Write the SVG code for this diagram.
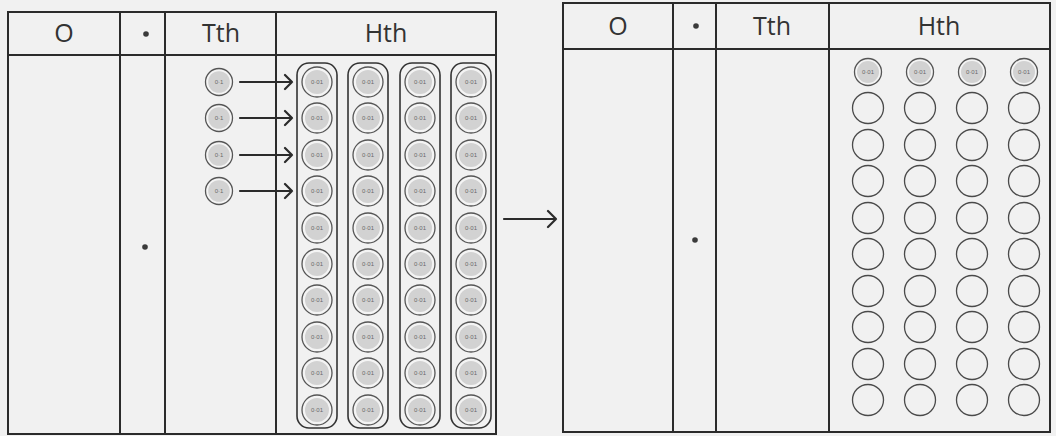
<svg xmlns="http://www.w3.org/2000/svg" xmlns:xlink="http://www.w3.org/1999/xlink" width="1056" height="436" viewBox="0 0 1056 436">
<style>
.bg{fill:#f1f1f1}
.tbl{fill:none;stroke:#2b2b2b;stroke-width:2}
.hdr{font-family:"Open Sans","DejaVu Sans",sans-serif;font-size:25px;fill:#333;text-anchor:middle}
.dot{fill:#3a3a3a}
.ring{fill:#f4f4f4;stroke:#555;stroke-width:1.3}
.disc{fill:#d2d2d2}
.lbl{font-family:"Liberation Sans",Arial,sans-serif;font-size:6px;fill:#6a6a6a;text-anchor:middle;dominant-baseline:central}
.cap{fill:none;stroke:#333;stroke-width:1.6}
.empty{fill:none;stroke:#4a4a4a;stroke-width:1.3}
.conn{fill:none;stroke:#2b2b2b;stroke-width:2.2;stroke-linecap:round;stroke-linejoin:round}
</style>
<defs>
<g id="d01"><circle class="ring" r="15"/><circle class="disc" r="12"/></g>
<g id="d1"><circle class="ring" r="13.5"/><circle class="disc" r="10.8"/></g>
<g id="dr"><circle class="ring" r="13.5"/><circle class="disc" r="11"/></g>
<g id="e"><circle class="empty" r="15.5"/></g>
</defs>
<rect class="bg" x="0" y="0" width="1056" height="436"/>

<g id="table-left">
<rect class="tbl" x="8" y="12" width="488" height="422"/>
<line class="tbl" x1="8" y1="55" x2="496" y2="55"/>
<line class="tbl" x1="120" y1="12" x2="120" y2="434"/>
<line class="tbl" x1="165" y1="12" x2="165" y2="434"/>
<line class="tbl" x1="276" y1="12" x2="276" y2="434"/>
<text class="hdr" x="64" y="42">O</text>
<circle class="dot" cx="146" cy="34" r="2.8"/>
<text class="hdr" x="221" y="42">Tth</text>
<text class="hdr" x="386" y="42">Hth</text>
<circle class="dot" cx="145" cy="247" r="2.8"/>
</g>

<g id="tth-left">
<g id="t1"><use xlink:href="#d1" x="219" y="82"/><text class="lbl" x="219" y="82">0·1</text></g>
<g id="t2"><use xlink:href="#d1" x="219" y="118"/><text class="lbl" x="219" y="118">0·1</text></g>
<g id="t3"><use xlink:href="#d1" x="219" y="155"/><text class="lbl" x="219" y="155">0·1</text></g>
<g id="t4"><use xlink:href="#d1" x="219" y="191"/><text class="lbl" x="219" y="191">0·1</text></g>
</g>

<g id="connectors">
<path class="conn" d="M240 82H292M285 75L292 82L285 89"/>
<path class="conn" d="M240 118H292M285 111L292 118L285 125"/>
<path class="conn" d="M240 155H292M285 148L292 155L285 162"/>
<path class="conn" d="M240 191H292M285 184L292 191L285 198"/>
<path class="conn" d="M504 219H556M548 211L556 219L548 227"/>
</g>

<g id="hth-col1">
<rect class="cap" x="297" y="63" width="40" height="365" rx="12"/>
<use xlink:href="#d01" x="317" y="82"/><text class="lbl" x="317" y="82">0·01</text>
<use xlink:href="#d01" x="317" y="118"/><text class="lbl" x="317" y="118">0·01</text>
<use xlink:href="#d01" x="317" y="155"/><text class="lbl" x="317" y="155">0·01</text>
<use xlink:href="#d01" x="317" y="191"/><text class="lbl" x="317" y="191">0·01</text>
<use xlink:href="#d01" x="317" y="228"/><text class="lbl" x="317" y="228">0·01</text>
<use xlink:href="#d01" x="317" y="264"/><text class="lbl" x="317" y="264">0·01</text>
<use xlink:href="#d01" x="317" y="300"/><text class="lbl" x="317" y="300">0·01</text>
<use xlink:href="#d01" x="317" y="337"/><text class="lbl" x="317" y="337">0·01</text>
<use xlink:href="#d01" x="317" y="373"/><text class="lbl" x="317" y="373">0·01</text>
<use xlink:href="#d01" x="317" y="410"/><text class="lbl" x="317" y="410">0·01</text>
</g>
<g id="hth-col2">
<rect class="cap" x="348" y="63" width="40" height="365" rx="12"/>
<use xlink:href="#d01" x="368" y="82"/><text class="lbl" x="368" y="82">0·01</text>
<use xlink:href="#d01" x="368" y="118"/><text class="lbl" x="368" y="118">0·01</text>
<use xlink:href="#d01" x="368" y="155"/><text class="lbl" x="368" y="155">0·01</text>
<use xlink:href="#d01" x="368" y="191"/><text class="lbl" x="368" y="191">0·01</text>
<use xlink:href="#d01" x="368" y="228"/><text class="lbl" x="368" y="228">0·01</text>
<use xlink:href="#d01" x="368" y="264"/><text class="lbl" x="368" y="264">0·01</text>
<use xlink:href="#d01" x="368" y="300"/><text class="lbl" x="368" y="300">0·01</text>
<use xlink:href="#d01" x="368" y="337"/><text class="lbl" x="368" y="337">0·01</text>
<use xlink:href="#d01" x="368" y="373"/><text class="lbl" x="368" y="373">0·01</text>
<use xlink:href="#d01" x="368" y="410"/><text class="lbl" x="368" y="410">0·01</text>
</g>
<g id="hth-col3">
<rect class="cap" x="400" y="63" width="40" height="365" rx="12"/>
<use xlink:href="#d01" x="420" y="82"/><text class="lbl" x="420" y="82">0·01</text>
<use xlink:href="#d01" x="420" y="118"/><text class="lbl" x="420" y="118">0·01</text>
<use xlink:href="#d01" x="420" y="155"/><text class="lbl" x="420" y="155">0·01</text>
<use xlink:href="#d01" x="420" y="191"/><text class="lbl" x="420" y="191">0·01</text>
<use xlink:href="#d01" x="420" y="228"/><text class="lbl" x="420" y="228">0·01</text>
<use xlink:href="#d01" x="420" y="264"/><text class="lbl" x="420" y="264">0·01</text>
<use xlink:href="#d01" x="420" y="300"/><text class="lbl" x="420" y="300">0·01</text>
<use xlink:href="#d01" x="420" y="337"/><text class="lbl" x="420" y="337">0·01</text>
<use xlink:href="#d01" x="420" y="373"/><text class="lbl" x="420" y="373">0·01</text>
<use xlink:href="#d01" x="420" y="410"/><text class="lbl" x="420" y="410">0·01</text>
</g>
<g id="hth-col4">
<rect class="cap" x="451" y="63" width="40" height="365" rx="12"/>
<use xlink:href="#d01" x="471" y="82"/><text class="lbl" x="471" y="82">0·01</text>
<use xlink:href="#d01" x="471" y="118"/><text class="lbl" x="471" y="118">0·01</text>
<use xlink:href="#d01" x="471" y="155"/><text class="lbl" x="471" y="155">0·01</text>
<use xlink:href="#d01" x="471" y="191"/><text class="lbl" x="471" y="191">0·01</text>
<use xlink:href="#d01" x="471" y="228"/><text class="lbl" x="471" y="228">0·01</text>
<use xlink:href="#d01" x="471" y="264"/><text class="lbl" x="471" y="264">0·01</text>
<use xlink:href="#d01" x="471" y="300"/><text class="lbl" x="471" y="300">0·01</text>
<use xlink:href="#d01" x="471" y="337"/><text class="lbl" x="471" y="337">0·01</text>
<use xlink:href="#d01" x="471" y="373"/><text class="lbl" x="471" y="373">0·01</text>
<use xlink:href="#d01" x="471" y="410"/><text class="lbl" x="471" y="410">0·01</text>
</g>

<g id="table-right">
<rect class="tbl" x="563" y="3" width="487" height="429"/>
<line class="tbl" x1="563" y1="49" x2="1050" y2="49"/>
<line class="tbl" x1="673" y1="3" x2="673" y2="432"/>
<line class="tbl" x1="716" y1="3" x2="716" y2="432"/>
<line class="tbl" x1="829" y1="3" x2="829" y2="432"/>
<text class="hdr" x="618" y="35">O</text>
<circle class="dot" cx="696" cy="26" r="2.8"/>
<text class="hdr" x="772" y="35">Tth</text>
<text class="hdr" x="939" y="35">Hth</text>
<circle class="dot" cx="695" cy="240" r="2.8"/>
</g>

<g id="hth-right">
<g id="r-top">
<use xlink:href="#dr" x="868" y="72"/><text class="lbl" x="868" y="72">0·01</text>
<use xlink:href="#dr" x="920" y="72"/><text class="lbl" x="920" y="72">0·01</text>
<use xlink:href="#dr" x="972" y="72"/><text class="lbl" x="972" y="72">0·01</text>
<use xlink:href="#dr" x="1024" y="72"/><text class="lbl" x="1024" y="72">0·01</text>
</g>
<g id="r-empty">
<use xlink:href="#e" x="868" y="108"/><use xlink:href="#e" x="920" y="108"/><use xlink:href="#e" x="972" y="108"/><use xlink:href="#e" x="1024" y="108"/>
<use xlink:href="#e" x="868" y="145"/><use xlink:href="#e" x="920" y="145"/><use xlink:href="#e" x="972" y="145"/><use xlink:href="#e" x="1024" y="145"/>
<use xlink:href="#e" x="868" y="181"/><use xlink:href="#e" x="920" y="181"/><use xlink:href="#e" x="972" y="181"/><use xlink:href="#e" x="1024" y="181"/>
<use xlink:href="#e" x="868" y="218"/><use xlink:href="#e" x="920" y="218"/><use xlink:href="#e" x="972" y="218"/><use xlink:href="#e" x="1024" y="218"/>
<use xlink:href="#e" x="868" y="254"/><use xlink:href="#e" x="920" y="254"/><use xlink:href="#e" x="972" y="254"/><use xlink:href="#e" x="1024" y="254"/>
<use xlink:href="#e" x="868" y="291"/><use xlink:href="#e" x="920" y="291"/><use xlink:href="#e" x="972" y="291"/><use xlink:href="#e" x="1024" y="291"/>
<use xlink:href="#e" x="868" y="327"/><use xlink:href="#e" x="920" y="327"/><use xlink:href="#e" x="972" y="327"/><use xlink:href="#e" x="1024" y="327"/>
<use xlink:href="#e" x="868" y="364"/><use xlink:href="#e" x="920" y="364"/><use xlink:href="#e" x="972" y="364"/><use xlink:href="#e" x="1024" y="364"/>
<use xlink:href="#e" x="868" y="400"/><use xlink:href="#e" x="920" y="400"/><use xlink:href="#e" x="972" y="400"/><use xlink:href="#e" x="1024" y="400"/>
</g>
</g>
</svg>
